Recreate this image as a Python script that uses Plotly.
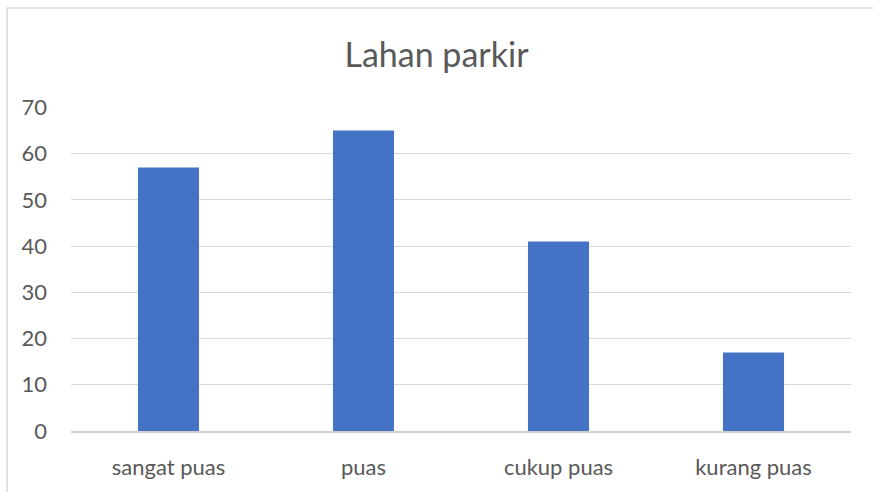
import plotly.graph_objects as go

# data
categories = ['sangat puas', 'puas', 'cukup puas', 'kurang puas']
values = [57, 65, 41, 17]
y_ticks = [0, 10, 20, 30, 40, 50, 60, 70]

fig = go.Figure(data=[go.Bar(x=categories, y=values, marker_color='#4472c4',
                             marker_line_width=0, width=0.313)])

fig.update_layout(
    width=873,
    height=492,
    paper_bgcolor='white',
    plot_bgcolor='white',
    margin=dict(l=71, r=22, t=107, b=59),
    title=dict(text='Lahan parkir', x=0.5, xanchor='center', y=0.888, yanchor='middle',
               font=dict(family='Lato, Open Sans, sans-serif', size=34, color='#595959')),
    font=dict(family='Lato, Open Sans, sans-serif', size=22, color='#595959'),
    showlegend=False,
    bargap=0.687,
)

# range a hair above 70 so the top gridline is drawn
fig.update_yaxes(range=[0, 70.08], tickvals=y_ticks, showgrid=True, gridcolor='#d9d9d9',
                 gridwidth=1, zeroline=False, showline=False, ticklabelstandoff=23,
                 tickfont=dict(size=22, color='#595959'), fixedrange=True)
fig.update_xaxes(showline=True, linecolor='#d0d0d0', linewidth=1.5, showgrid=False,
                 ticklabelstandoff=16, tickfont=dict(size=22, color='#595959'))

# outer chart border (only left/top visible in the crop)
fig.add_shape(type='rect', xref='paper', yref='paper',
              x0=(7 - 71) / 780, x1=1.1, y0=-0.25, y1=1 + (107 - 7.5) / 326,
              line=dict(color='#d9d9d9', width=1.5), fillcolor='rgba(0,0,0,0)', layer='below')

# remove the default page margin so the figure sits at the top-left corner
fig.write_html("out.html", config={'displayModeBar': False},
               post_script="document.body.style.margin='0';")
